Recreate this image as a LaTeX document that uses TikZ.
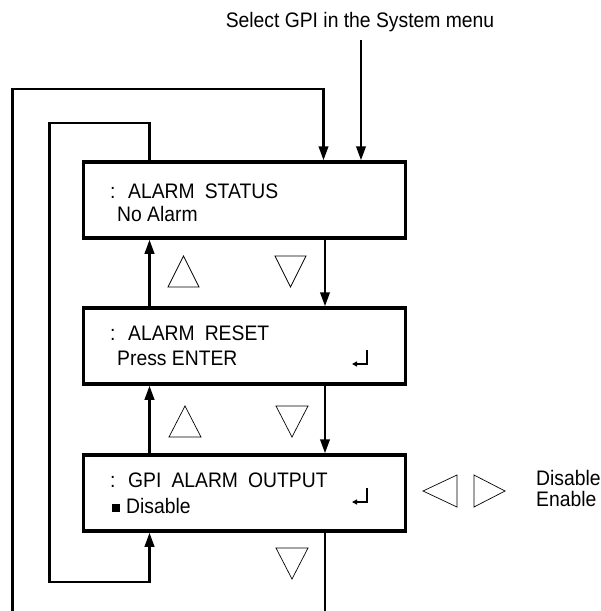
\documentclass[tikz,border=0pt]{standalone}
\usepackage{fontspec}
\setmainfont{Liberation Sans}
\newfontfamily\narrowf[FakeStretch=0.92]{Liberation Sans}
\usetikzlibrary{arrows.meta}
\tikzset{
  menubox/.style={draw, line width=3.5pt, minimum width=322pt, minimum height=76pt, inner sep=0pt},
  conn/.style={line width=2.4pt},
  arr/.style={conn, -{Triangle[length=14pt,width=9.5pt]}},
  txt/.style={anchor=base west, inner sep=0pt, font=\narrowf\fontsize{21}{24}\selectfont},
  tri/.style={draw, line width=0.7pt},
  enter/.style={line width=1.5pt, -{Triangle[length=5pt,width=5pt]}}
}
\begin{document}
\begin{tikzpicture}[x=1pt,y=-1pt]
\useasboundingbox (0,0) rectangle (601,611);
% boxes
\node[menubox] (b1) at (244.5,200) {};
\node[menubox] (b2) at (244.5,346) {};
\node[menubox] (b3) at (244.5,493) {};
% columns
\coordinate (xl) at (149.5,0);
\coordinate (xr) at (325,0);
\coordinate (xs) at (361,0);
% title
\node[txt, anchor=base] (title) at (360,27) {Select GPI in the System menu};
\coordinate (s0) at (361,40);
\draw[arr] (s0) -- (b1.north -| xs);
% texts box1
\node[txt] (t1a) at (110,198) {:\hspace{0.6em}ALARM\hspace{0.48em}STATUS};
\node[txt] (t1b) at (117,221) {No Alarm};
% texts box2
\node[txt] (t2a) at (110,340) {:\hspace{0.6em}ALARM\hspace{0.48em}RESET};
\node[txt] (t2b) at (117,365) {Press ENTER};
% texts box3
\node[txt] (t3a) at (110,487) {:\hspace{0.6em}GPI\hspace{0.48em}ALARM\hspace{0.48em}OUTPUT};
\fill (112,504) rectangle (120,512);
\node[txt] (t3b) at (126,513) {Disable};
% enter symbols
\draw[enter] (367,350) -- (367,364) -- (352,364);
\draw[enter] (367,488) -- (367,502) -- (352,502);
% down flow
\draw[arr] (b1.south -| xr) -- (b2.north -| xr);
\draw[arr] (b2.south -| xr) -- (b3.north -| xr);
\coordinate (bot1) at (325,611);
\draw[conn] (b3.south -| xr) -- (bot1);
% up flow
\draw[arr] (b2.north -| xl) -- (b1.south -| xl);
\draw[arr] (b3.north -| xl) -- (b2.south -| xl);
% inner loop
\draw[arr] (b1.north -| xl) -- (149.5,123) -- (49.5,123) -- (49.5,582) -- (149.5,582) -- (b3.south -| xl);
% outer loop
\coordinate (bot2) at (12.5,611);
\draw[arr] (bot2) -- (12.5,89) -- (323.5,89) -- (b1.north -| 323.5,0);
% triangles
\draw[tri] (168,287) -- (199,287) -- (183.5,256) -- cycle;
\draw[tri] (275,256) -- (306,256) -- (290.5,287) -- cycle;
\draw[tri] (169,437) -- (201,437) -- (185,406) -- cycle;
\draw[tri] (276,406) -- (308,406) -- (292,437) -- cycle;
\draw[tri] (276,548) -- (308,548) -- (292,579) -- cycle;
\draw[tri] (457,475) -- (457,507) -- (423,491) -- cycle;
\draw[tri] (474,475) -- (474,507) -- (505,491) -- cycle;
% side labels
\node[txt] (dis) at (536,485) {Disable};
\node[txt] (ena) at (536,506) {Enable};
\end{tikzpicture}
\end{document}
